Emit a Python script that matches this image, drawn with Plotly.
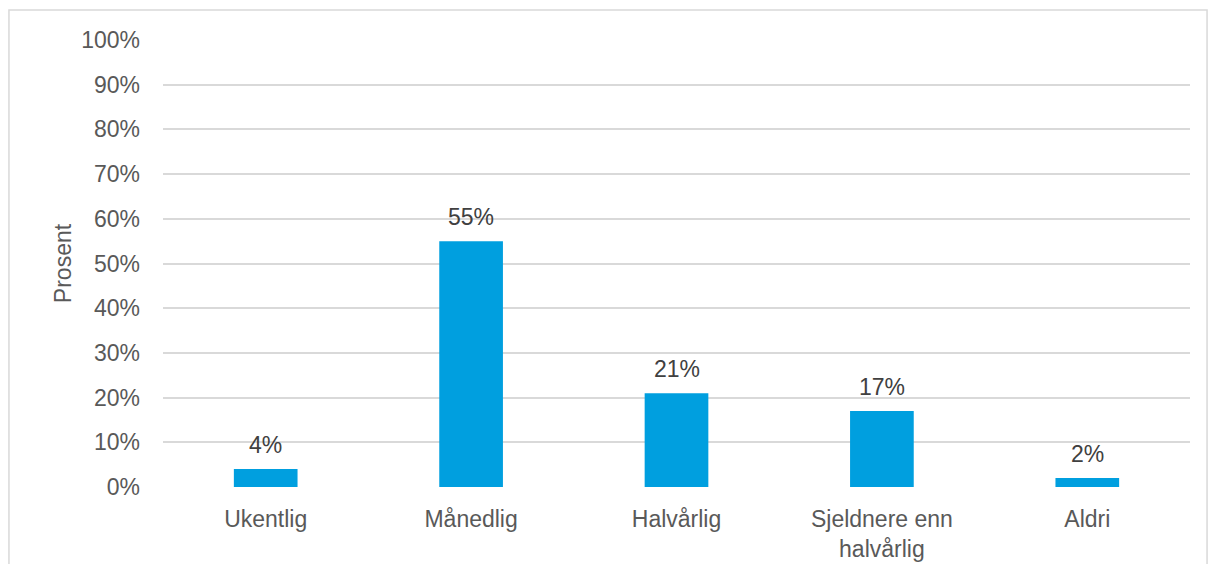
import plotly.graph_objects as go

categories = ["Ukentlig", "Månedlig", "Halvårlig", "Sjeldnere enn<br>halvårlig", "Aldri"]
values = [4, 55, 21, 17, 2]
y_ticks = list(range(0, 101, 10))
y_tick_text = [f"{v}%" for v in y_ticks]

BAR_COLOR = "#009FDF"
GRID = "#D9D9D9"
FONT = "Liberation Sans, Arial, sans-serif"

fig = go.Figure()
fig.add_trace(go.Bar(
    x=categories,
    y=values,
    marker=dict(color=BAR_COLOR, line=dict(width=0)),
    hoverinfo="skip",
))

for cat, val in zip(categories, values):
    fig.add_annotation(
        x=cat, y=val, text=f"{val}%",
        showarrow=False, yanchor="bottom", yshift=9,
        font=dict(family=FONT, size=23, color="#404040"),
    )

# outer chart frame
fig.add_shape(
    type="rect", xref="paper", yref="paper",
    x0=-0.15, x1=1.0166, y0=-0.2, y1=1.0671,
    line=dict(color=GRID, width=1.5), fillcolor="rgba(0,0,0,0)", layer="below",
)

fig.update_layout(
    width=1208, height=564,
    margin=dict(l=163, r=18, t=40, b=77),
    paper_bgcolor="white", plot_bgcolor="white",
    bargap=0.69,
    showlegend=False,
    font=dict(family=FONT, size=23, color="#595959"),
    xaxis=dict(
        showgrid=False, zeroline=False, showline=False,
        ticks="", ticklabelstandoff=16, automargin=False,
        tickfont=dict(size=23, color="#595959"),
        fixedrange=True,
    ),
    yaxis=dict(
        range=[0, 100],
        tickvals=y_ticks, ticktext=y_tick_text,
        showgrid=True, gridcolor=GRID, gridwidth=1.5,
        zeroline=False, showline=False,
        ticks="", ticklabelstandoff=22, automargin=False,
        tickfont=dict(size=23, color="#595959"),
        title=dict(text="Prosent", standoff=3, font=dict(size=23, color="#595959")),
        fixedrange=True,
    ),
)

fig.write_html("out.html")
